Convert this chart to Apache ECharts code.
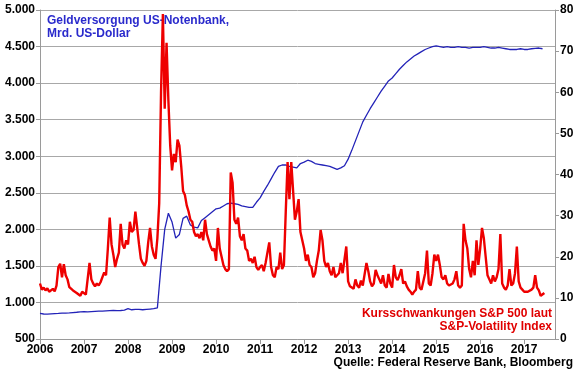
<!DOCTYPE html>
<html>
<head>
<meta charset="utf-8">
<script src="https://cdn.jsdelivr.net/npm/echarts@6/dist/echarts.min.js"></script>
<style>
html,body{margin:0;padding:0;background:#fff;}
#c{width:580px;height:374px;}
</style>
</head>
<body>
<div id="c"></div>
<script>
// Fed balance sheet, bn USD, monthly from Jan 2006
const fedStart = 2006;
const fedPerYear = 12;
const fedValues = [
  850, 842, 840, 845, 848, 850, 853, 855, 858, 862, 866, 872,
  875, 872, 875, 878, 880, 882, 885, 888, 890, 888, 890, 895,
  915, 900, 905, 905, 900, 905, 910, 915, 925, 1500, 2000, 2220,
  2100, 1880, 1930, 2150, 2180, 2060, 2030, 2020, 2120, 2160, 2200, 2240,
  2280, 2290, 2320, 2350, 2360, 2350, 2340, 2320, 2310, 2300, 2300, 2370,
  2430, 2520, 2600, 2690, 2780, 2860, 2880, 2880, 2860, 2850, 2840, 2900,
  2920, 2945, 2930, 2900, 2890, 2880, 2870, 2860, 2840, 2820, 2840, 2870,
  2960, 3080, 3210, 3340, 3470, 3560, 3650, 3730, 3810, 3890, 3960, 4030,
  4070, 4130, 4190, 4240, 4290, 4330, 4370, 4400, 4430, 4460, 4480, 4500,
  4510, 4500, 4490, 4500, 4490, 4490, 4500, 4490, 4490, 4480, 4490, 4490,
  4490, 4500, 4490, 4480, 4480, 4490, 4480, 4470, 4460, 4460, 4460, 4470,
  4460, 4460, 4470, 4475, 4480, 4470
];
// S&P volatility index, semi-monthly from Jan 2006
const vixStart = 2006;
const vixPerYear = 24;
const vixValues = [
  13.5, 12, 12.5, 11.8, 12.3, 11.5, 11.8, 12.2, 11.6, 13, 17.5, 18.3, 15, 18.2, 15.5, 14.5, 12.6, 13, 11.8, 11.5, 11.2, 10.8, 10.5, 11.5,
  11.5, 10.8, 10.6, 18.5, 14.5, 13.5, 12.8, 13.5, 13, 13.8, 14, 16.2, 15.5, 22, 29.5, 23, 20.5, 17.5, 19.5, 21, 28, 23, 22, 24,
  23, 28.5, 26, 26.5, 31, 27, 23, 19.5, 18.5, 17.8, 19, 23.5, 27, 22.5, 20.5, 19.5, 24.5, 33, 60, 79, 56, 72, 58, 47,
  41, 45, 43, 48.5, 47, 42, 36, 35, 32.5, 31, 29, 28.5, 26, 25, 25.5, 24.5, 26, 24, 29, 25.5, 24, 22.5, 21.5, 22,
  19, 27, 22, 20, 18, 17, 16.5, 17, 40.5, 38, 29, 28, 29.5, 25, 24, 25.5, 22, 21.5, 19, 19.5, 18.5, 20, 17.5, 16.8,
  17.5, 18, 16.5, 18.5, 21, 23.5, 17.5, 15.5, 15, 17.5, 17, 21, 17, 18, 31, 43, 34, 43, 36, 29, 31, 34, 26, 24,
  22, 19, 20.5, 18, 17.5, 15, 16, 19, 21.5, 26.5, 24, 19, 17.5, 18.5, 16.5, 15.5, 17.5, 15, 15.5, 16, 18.5, 16, 15.8, 22.5,
  14, 12.8, 13, 12.2, 14.5, 13, 12.5, 14.2, 13, 12.8, 18.5, 16.5, 14, 12.8, 13.5, 16.8, 15.5, 14.5, 13.5, 15.5, 13, 12.5, 15.8, 13.5,
  12.5, 18, 15, 14.3, 15.5, 17, 13.5, 14, 12.8, 12, 11.5, 10.8, 11.5, 12, 16.5, 12.5, 12, 14, 16, 21.5, 13.5, 13, 16, 20.5,
  19, 20.5, 18, 15, 14.5, 15.5, 13.5, 13, 12.8, 13.5, 14.5, 16.5, 13, 12.5, 13, 28, 24, 22, 17, 15, 19, 15.5, 24, 18,
  22, 27, 24.5, 20, 15.5, 14.5, 13.5, 15.5, 14, 15, 17, 25.5, 13.5, 12.5, 12, 13, 17, 13, 13.5, 16, 22.5, 14, 12.5, 12,
  11.5, 11.2, 11.5, 11.3, 12, 12.5, 15.5, 12.5, 11.8, 10.5, 10.2, 11.2
];
const yearTicks = [2006, 2007, 2008, 2009, 2010, 2011, 2012, 2013, 2014, 2015, 2016, 2017];
const fedLabel = ['Geldversorgung US-Notenbank,', 'Mrd. US-Dollar'];
const vixLabel = ['Kursschwankungen S&P 500 laut', 'S&P-Volatility Index'];
const sourceLabel = 'Quelle: Federal Reserve Bank, Bloomberg';

const fedData = fedValues.map((v, i) => [fedStart + i / fedPerYear, v]);
const vixData = vixValues.map((v, i) => [vixStart + i / vixPerYear, v]);

const font = '"Liberation Sans", Arial, sans-serif';
const chart = echarts.init(document.getElementById('c'), null, {renderer: 'canvas'});
chart.setOption({
  animation: false,
  backgroundColor: '#fff',
  grid: {left: 40, right: 25, top: 10, bottom: 35},
  xAxis: {
    type: 'value', min: 2006, max: 2017.7, interval: 1,
    axisLine: {show: true, lineStyle: {color: '#9a9a9a', width: 1}},
    axisTick: {show: true, length: 5, lineStyle: {color: '#9a9a9a'}},
    splitLine: {show: false},
    axisLabel: {
      margin: 5, color: '#000', fontWeight: 'bold', fontSize: 12, fontFamily: font,
      showMaxLabel: false,
      formatter: v => yearTicks.indexOf(v) >= 0 ? String(v) : ''
    }
  },
  yAxis: [{
    type: 'value', min: 500, max: 5000, interval: 500, position: 'left',
    axisLine: {show: true, lineStyle: {color: '#9a9a9a'}},
    axisTick: {show: true, length: 4, lineStyle: {color: '#9a9a9a'}},
    splitLine: {show: true, lineStyle: {color: '#a8a8a8', width: 1}},
    axisLabel: {
      margin: 5, color: '#000', fontWeight: 'bold', fontSize: 12, fontFamily: font,
      formatter: v => v >= 1000 ? Math.floor(v / 1000) + '.' + String(v % 1000).padStart(3, '0') : String(v)
    }
  }, {
    type: 'value', min: 0, max: 80, interval: 10, position: 'right',
    axisLine: {show: true, lineStyle: {color: '#9a9a9a'}},
    axisTick: {show: true, length: 4, lineStyle: {color: '#9a9a9a'}},
    splitLine: {show: false},
    axisLabel: {margin: 5, color: '#000', fontWeight: 'bold', fontSize: 12, fontFamily: font}
  }],
  series: [{
    type: 'line', name: 'Fed', yAxisIndex: 0, data: fedData,
    showSymbol: false, lineStyle: {color: '#2323b8', width: 1.3}, z: 2
  }, {
    type: 'line', name: 'VIX', yAxisIndex: 1, data: vixData,
    showSymbol: false, lineStyle: {color: '#ee0000', width: 2.4}, z: 3
  }],
  graphic: [
    {type: 'text', left: 47, top: 14, style: {text: fedLabel.join('\n'), fill: '#2a2acc', font: 'bold 12px ' + font, lineHeight: 13}},
    {type: 'text', right: 28, top: 307, style: {text: vixLabel.join('\n'), fill: '#e00000', font: 'bold 12px ' + font, lineHeight: 13, textAlign: 'right'}},
    {type: 'text', right: 7, top: 357, style: {text: sourceLabel, fill: '#000', font: 'bold 12px ' + font}}
  ]
});
</script>
</body>
</html>
